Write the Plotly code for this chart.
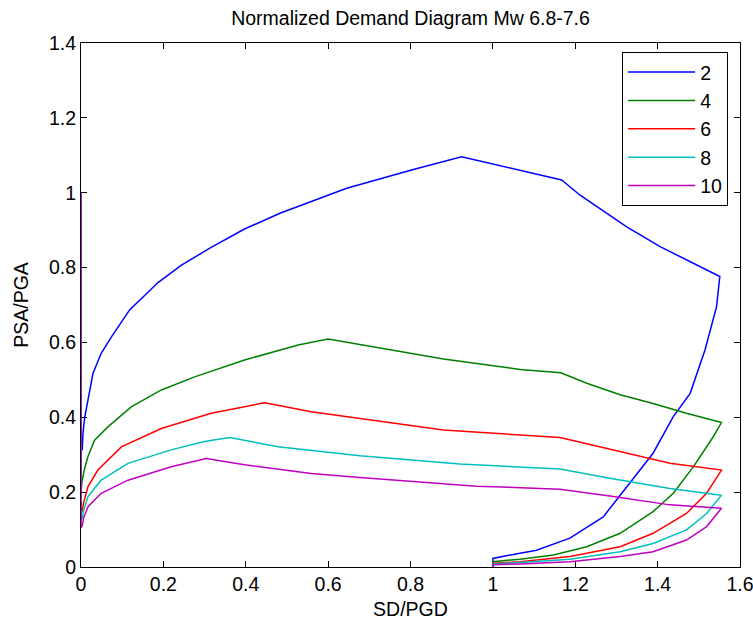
import plotly.graph_objects as go

# ---- data ----
series_names = ["2", "4", "6", "8", "10"]
series_colors = ["#0000ff", "#008000", "#ff0000", "#00bfbf", "#bf00bf"]

x_2 = [0, 0, 0.003, 0.005, 0.009, 0.017, 0.029, 0.049, 0.074, 0.118, 0.187, 0.243, 0.316, 0.397,
       0.483, 0.645, 0.807, 0.924, 1.167, 1.211, 1.325, 1.406, 1.551, 1.543, 1.515, 1.479, 1.438,
       1.389, 1.333, 1.268, 1.187, 1.106, 1.066, 1.005, 1.0, 1.0]
y_2 = [1.0, 0.313, 0.313, 0.36, 0.40, 0.45, 0.517, 0.571, 0.615, 0.687, 0.760, 0.806, 0.854, 0.903,
       0.945, 1.012, 1.062, 1.096, 1.034, 0.994, 0.909, 0.856, 0.776, 0.695, 0.58, 0.464, 0.402,
       0.304, 0.224, 0.134, 0.077, 0.045, 0.037, 0.023, 0.023, 0.0]

x_4 = [0, 0, 0.002, 0.008, 0.017, 0.033, 0.066, 0.122, 0.195, 0.276, 0.397, 0.527, 0.600, 0.88,
       1.066, 1.165, 1.228, 1.309, 1.389, 1.47, 1.555, 1.535, 1.487, 1.438, 1.389, 1.309, 1.228,
       1.147, 1.066, 1.005, 1.0, 1.0]
y_4 = [1.0, 0.197, 0.225, 0.26, 0.295, 0.339, 0.375, 0.428, 0.473, 0.508, 0.553, 0.593, 0.609, 0.556,
       0.528, 0.519, 0.491, 0.46, 0.437, 0.411, 0.386, 0.348, 0.268, 0.197, 0.148, 0.09, 0.054,
       0.032, 0.021, 0.014, 0.014, 0.0]

x_6 = [0, 0, 0.003, 0.006, 0.017, 0.041, 0.098, 0.195, 0.316, 0.446, 0.559, 0.677, 0.88, 1.163,
       1.284, 1.43, 1.555, 1.519, 1.47, 1.389, 1.309, 1.187, 1.066, 1.0, 1.0]
y_6 = [1.0, 0.147, 0.15, 0.17, 0.215, 0.259, 0.321, 0.37, 0.411, 0.439, 0.415, 0.397, 0.366, 0.346,
       0.314, 0.277, 0.259, 0.197, 0.143, 0.09, 0.054, 0.028, 0.014, 0.01, 0.0]

x_8 = [0, 0, 0.003, 0.006, 0.017, 0.049, 0.114, 0.219, 0.3, 0.361, 0.478, 0.677, 0.92, 1.163,
       1.284, 1.43, 1.555, 1.519, 1.47, 1.389, 1.309, 1.187, 1.066, 1.0, 1.0]
y_8 = [1.0, 0.125, 0.13, 0.15, 0.188, 0.232, 0.277, 0.313, 0.335, 0.346, 0.321, 0.297, 0.275, 0.262,
       0.237, 0.21, 0.192, 0.143, 0.099, 0.063, 0.041, 0.021, 0.012, 0.008, 0.0]

x_10 = [0, 0, 0.003, 0.006, 0.017, 0.049, 0.114, 0.219, 0.304, 0.397, 0.559, 0.677, 0.96, 1.163,
        1.284, 1.43, 1.555, 1.519, 1.47, 1.389, 1.309, 1.187, 1.066, 1.0, 1.0]
y_10 = [1.0, 0.105, 0.11, 0.13, 0.161, 0.197, 0.232, 0.268, 0.29, 0.273, 0.25, 0.239, 0.216, 0.208,
        0.19, 0.166, 0.157, 0.108, 0.072, 0.041, 0.028, 0.014, 0.008, 0.006, 0.0]

xs = [x_2, x_4, x_6, x_8, x_10]
ys = [y_2, y_4, y_6, y_8, y_10]

x_ticks = [0, 0.2, 0.4, 0.6, 0.8, 1.0, 1.2, 1.4, 1.6]
x_tick_labels = ["0", "0.2", "0.4", "0.6", "0.8", "1", "1.2", "1.4", "1.6"]
y_ticks = [0, 0.2, 0.4, 0.6, 0.8, 1.0, 1.2, 1.4]
y_tick_labels = ["0", "0.2", "0.4", "0.6", "0.8", "1", "1.2", "1.4"]

FONT = "Liberation Sans, Arial, Helvetica, sans-serif"
FS = 19.5

fig = go.Figure()
for name, color, x, y in zip(series_names, series_colors, xs, ys):
    fig.add_trace(go.Scatter(x=x, y=y, mode="lines", name=name,
                             line=dict(color=color, width=1.5)))

axis_common = dict(showline=True, linecolor="#000000", linewidth=1, mirror="ticks",
                   ticks="inside", ticklen=6, tickcolor="#000000", tickwidth=1,
                   showgrid=False, zeroline=False, ticklabeloverflow="allow",
                   layer="below traces",
                   tickfont=dict(family=FONT, size=FS, color="#000000"))

fig.update_xaxes(range=[0, 1.6], tickvals=x_ticks, ticktext=x_tick_labels,
                 title=dict(text="SD/PGD", font=dict(family=FONT, size=FS, color="#000000"), standoff=12),
                 **axis_common)
fig.update_yaxes(range=[0, 1.4], tickvals=y_ticks, ticktext=y_tick_labels,
                 title=dict(text="PSA/PGA", font=dict(family=FONT, size=FS, color="#000000"), standoff=15),
                 **axis_common)

fig.update_layout(
    width=753, height=620,
    margin=dict(l=81, r=13, t=43, b=53, autoexpand=False),
    paper_bgcolor="#ffffff", plot_bgcolor="#ffffff",
    font=dict(family=FONT, size=FS, color="#000000"),
    title=dict(text="Normalized Demand Diagram Mw 6.8-7.6", x=0.5, xref="paper",
               y=1 - 18 / 620, yanchor="middle", yref="container",
               font=dict(family=FONT, size=FS, color="#000000")),
    legend=dict(x=0.982, y=0.983, xanchor="right", yanchor="top",
                bordercolor="#000000", borderwidth=1, bgcolor="#ffffff",
                font=dict(family=FONT, size=FS, color="#000000"),
                entrywidth=40, itemwidth=67),
    showlegend=True,
)

# remove the default 8 px body margin of the page so the figure fills the window
fig.write_html("out.html", config={"displayModeBar": False},
               post_script="document.body.style.margin='0';")
